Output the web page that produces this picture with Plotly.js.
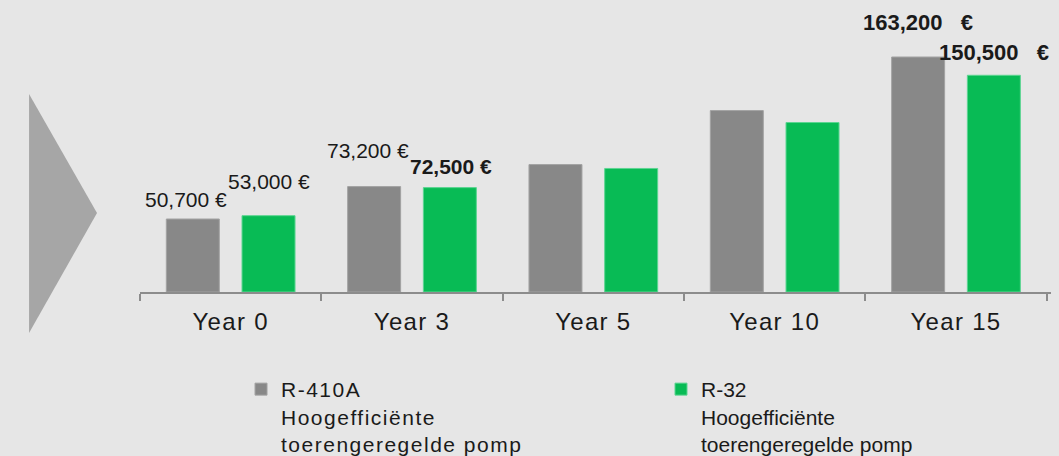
<!DOCTYPE html>
<html>
<head>
<meta charset="utf-8">
<script src="https://cdn.plot.ly/plotly-3.0.1.min.js"></script>
<style>
  html, body { margin: 0; padding: 0; background: #e6e6e6; }
  #chart { width: 1059px; height: 456px; }
  .xtick text { letter-spacing: 1.3px; }
  .legendtext { letter-spacing: 1.5px; }
</style>
</head>
<body>
<div id="chart"></div>
<script>
// ---- data ----
const categories = ['Year 0', 'Year 3', 'Year 5', 'Year 10', 'Year 15'];
const r410aValues = [50700, 73200, 88500, 126000, 163200];
const r32Values = [53000, 72500, 85800, 117700, 150500];
const r410aLabels = ['50,700 €', '73,200 €', '', '', '163,200\u00a0\u00a0\u00a0€'];
const r32Labels = ['53,000 €', '72,500 €', '', '', '150,500\u00a0\u00a0\u00a0€'];
const seriesNames = [
  'R-410A<br>Hoogefficiënte<br>toerengeregelde pomp',
  'R-32<br>Hoogefficiënte<br>toerengeregelde pomp'
];

// ---- styles ----
const grayBar = '#888888';
const greenBar = '#08bb55';
const textColor = '#1a1a1a';
const barOffset = 38;
// per-label style: [xshift extra, yshift, bold]
const r410aLabelStyle = [[-7, 20, false], [-6, 36, false], null, null, [0, 35, true]];
const r32LabelStyle = [[0, 34, false], [1, 21, true], null, null, [0, 23, true]];

const traces = [
  {
    type: 'bar', name: seriesNames[0], x: categories, y: r410aValues, legend: 'legend',
    marker: { color: grayBar, line: { color: '#a3a3a3', width: 1 } },
    hoverinfo: 'skip'
  },
  {
    type: 'bar', name: seriesNames[1], x: categories, y: r32Values, legend: 'legend2',
    marker: { color: greenBar, line: { color: '#5cd592', width: 1 } },
    hoverinfo: 'skip'
  }
];

const annotations = [];
function addLabels(labels, values, styles, sign) {
  labels.forEach((t, i) => {
    if (!t) return;
    const s = styles[i];
    const bold = s[2];
    annotations.push({
      x: categories[i], y: values[i], xref: 'x', yref: 'y',
      text: bold ? '<b>' + t + '</b>' : t,
      showarrow: false, xanchor: 'center', yanchor: 'middle',
      xshift: sign * barOffset + s[0], yshift: s[1],
      font: { family: 'Liberation Sans, Arial, sans-serif', size: bold ? (t.length > 9 ? 22 : 21) : 21, color: textColor }
    });
  });
}
addLabels(r410aLabels, r410aValues, r410aLabelStyle, -1);
addLabels(r32Labels, r32Values, r32LabelStyle, 1);

const legendFont = { size: 21, color: textColor, family: 'Liberation Sans, Arial, sans-serif' };
const layout = {
  width: 1059, height: 456,
  paper_bgcolor: '#e6e6e6', plot_bgcolor: '#e6e6e6',
  margin: { l: 140, r: 8, t: 20, b: 164, autoexpand: false },
  barmode: 'group', bargap: 0.165, bargroupgap: 0.30,
  font: { family: 'Liberation Sans, Arial, sans-serif', color: textColor },
  xaxis: {
    type: 'category', showline: true, linecolor: '#8c8c8c', linewidth: 2,
    ticks: 'outside', tickson: 'boundaries', ticklen: 7, tickwidth: 2, tickcolor: '#8c8c8c',
    tickfont: { size: 24, color: textColor, family: 'Liberation Sans, Arial, sans-serif' },
    tickangle: 0, automargin: false, ticklabelstandoff: 7,
    showgrid: false, zeroline: false, fixedrange: true
  },
  yaxis: { visible: false, range: [0, 188900], showgrid: false, zeroline: false, fixedrange: true },
  showlegend: true,
  legend: {
    orientation: 'v', x: 0.1109, xanchor: 'left', y: -0.283, yanchor: 'top',
    valign: 'top', font: legendFont, bgcolor: 'rgba(0,0,0,0)'
  },
  legend2: {
    orientation: 'v', x: 0.5719, xanchor: 'left', y: -0.283, yanchor: 'top',
    valign: 'top', font: legendFont, bgcolor: 'rgba(0,0,0,0)'
  },
  shapes: [{
    type: 'path', xref: 'paper', yref: 'paper',
    path: 'M -0.1218,0.728 L -0.0472,0.2904 L -0.1218,-0.1507 Z',
    fillcolor: '#a6a6a6', line: { width: 0 }
  }],
  annotations: annotations
};

Plotly.newPlot('chart', traces, layout, { displayModeBar: false, staticPlot: true });
</script>
</body>
</html>
